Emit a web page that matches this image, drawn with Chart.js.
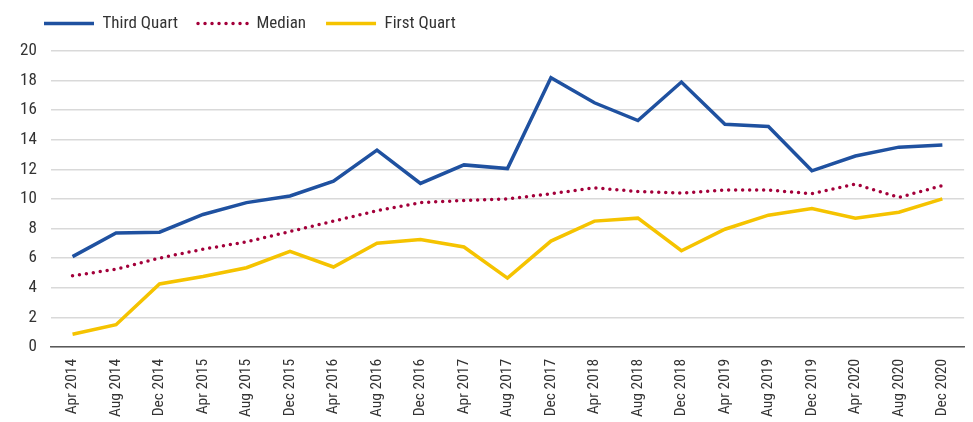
<!DOCTYPE html>
<html>
<head>
<meta charset="utf-8">
<script src="https://cdn.jsdelivr.net/npm/chart.js@4/dist/chart.umd.min.js"></script>
<style>
  html, body { margin: 0; padding: 0; background: #fff; }
  #wrap { width: 973px; height: 422px; }
</style>
</head>
<body>
<div id="wrap"><canvas id="quartChart"></canvas></div>
<script>
let labels = ['Apr 2014', 'Aug 2014', 'Dec 2014', 'Apr 2015', 'Aug 2015', 'Dec 2015', 'Apr 2016',
  'Aug 2016', 'Dec 2016', 'Apr 2017', 'Aug 2017', 'Dec 2017', 'Apr 2018', 'Aug 2018', 'Dec 2018',
  'Apr 2019', 'Aug 2019', 'Dec 2019', 'Apr 2020', 'Aug 2020', 'Dec 2020'];
let thirdQuart = [6.1, 7.7, 7.75, 8.95, 9.75, 10.2, 11.2, 13.3, 11.05, 12.3, 12.05, 18.2, 16.5,
  15.3, 17.9, 15.05, 14.9, 11.9, 12.9, 13.5, 13.65];
let median = [4.8, 5.25, 6.0, 6.6, 7.1, 7.8, 8.5, 9.2, 9.75, 9.9, 10.0, 10.35, 10.75, 10.5, 10.4,
  10.6, 10.6, 10.35, 11.0, 10.1, 10.9];
let firstQuart = [0.85, 1.5, 4.25, 4.75, 5.35, 6.45, 5.4, 7.0, 7.25, 6.75, 4.65, 7.15, 8.5, 8.7,
  6.5, 7.95, 8.9, 9.35, 8.7, 9.1, 10.0];

let narrow = '"Liberation Sans Narrow", "Roboto Condensed", "Arial Narrow", sans-serif';

// nudge the legend into the spot it has in the original
let legendShift = {
  id: 'legendShift',
  afterLayout: (chart) => {
    chart.legend.left += 18;
    chart.legend.top -= 9;
  }
};

let ctx = document.getElementById('quartChart').getContext('2d');
let quartChart = new Chart(ctx, {
  type: 'line',
  data: {
    labels: labels,
    datasets: [{
      label: 'Third Quart',
      data: thirdQuart,
      borderColor: '#1f51a0',
      backgroundColor: '#1f51a0',
      borderWidth: 3.5,
      pointRadius: 0,
      tension: 0
    }, {
      label: 'Median',
      data: median,
      borderColor: '#a3003a',
      backgroundColor: '#a3003a',
      borderWidth: 3.5,
      borderDash: [0, 7],
      borderCapStyle: 'round',
      pointRadius: 0,
      tension: 0
    }, {
      label: 'First Quart',
      data: firstQuart,
      borderColor: '#f5c300',
      backgroundColor: '#f5c300',
      borderWidth: 3.5,
      pointRadius: 0,
      tension: 0
    }]
  },
  options: {
    responsive: true,
    maintainAspectRatio: false,
    animation: false,
    layout: {
      padding: { left: 6, right: 1, top: 4, bottom: -7 }
    },
    plugins: {
      legend: {
        position: 'top',
        align: 'start',
        labels: {
          usePointStyle: true,
          pointStyle: 'line',
          pointStyleWidth: 50,
          padding: 20,
          color: '#333',
          font: { family: narrow, size: 17 },
          generateLabels: (chart) => {
            return chart.data.datasets.map((ds, i) => ({
              text: ds.label,
              datasetIndex: i,
              fillStyle: ds.borderColor,
              strokeStyle: ds.borderColor,
              fontColor: '#333',
              lineWidth: ds.borderWidth,
              lineCap: ds.borderCapStyle || 'butt',
              lineDash: ds.borderDash || [],
              pointStyle: 'line',
              hidden: false
            }));
          }
        }
      },
      tooltip: { enabled: false }
    },
    scales: {
      x: {
        offset: true,
        grid: { display: false, drawTicks: false },
        border: { color: '#595959', width: 1.5 },
        ticks: {
          maxRotation: 90,
          minRotation: 90,
          autoSkip: false,
          padding: 12,
          color: '#333',
          font: { family: narrow, size: 15.5 }
        }
      },
      y: {
        min: 0,
        max: 20,
        grid: { color: '#d9d9d9', lineWidth: 1.5, drawTicks: false },
        border: { display: false },
        ticks: {
          stepSize: 2,
          padding: 14,
          color: '#333',
          font: { family: narrow, size: 17 }
        }
      }
    }
  },
  plugins: [legendShift]
});
</script>
</body>
</html>
